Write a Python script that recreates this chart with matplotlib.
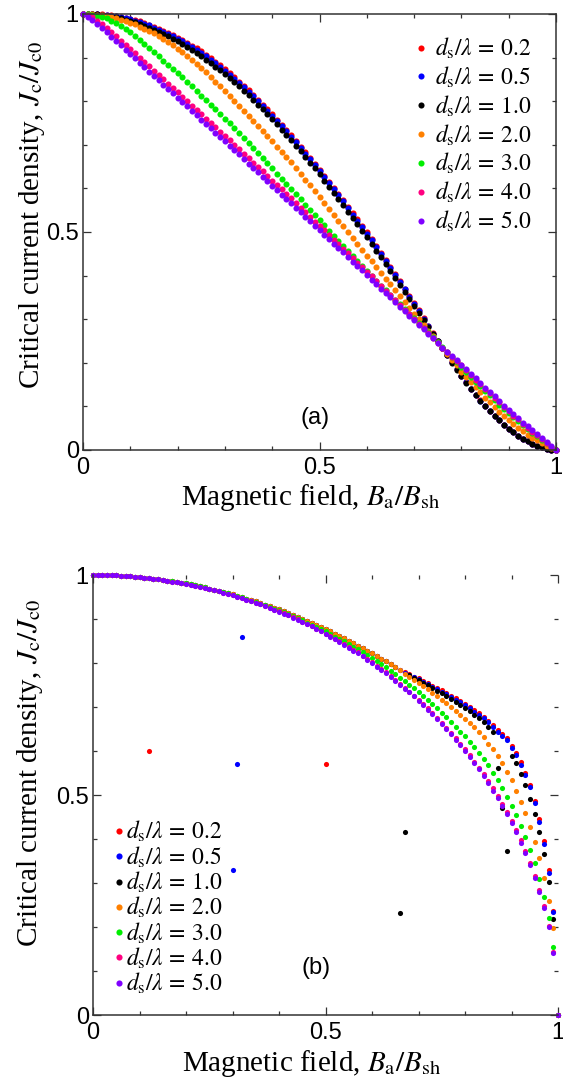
import numpy as np
import matplotlib
matplotlib.use("Agg")
import matplotlib.pyplot as plt
from matplotlib.ticker import MultipleLocator, FixedLocator, FixedFormatter

plt.rcParams['mathtext.fontset'] = 'stix'

# ---- data -------------------------------------------------------------
ratios = ['0.2', '0.5', '1.0', '2.0', '3.0', '4.0', '5.0']
colors = ['#ff0000', '#0000ff', '#000000', '#ff8000', '#00ee00', '#ff0080', '#8000ff']

# panel (a): field grid 0 ... 1 in steps of 0.01
field_a = np.linspace(0, 1, 101)

jc_a_02 = [1.000, 1.000, 1.000, 0.999, 0.999, 0.998, 0.997, 0.995, 0.994, 0.991,
           0.989, 0.986, 0.983, 0.979, 0.975, 0.971, 0.966, 0.961, 0.957, 0.951,
           0.945, 0.940, 0.934, 0.927, 0.921, 0.914, 0.906, 0.898, 0.890, 0.882,
           0.873, 0.864, 0.855, 0.845, 0.835, 0.825, 0.814, 0.803, 0.792, 0.781,
           0.770, 0.758, 0.746, 0.734, 0.722, 0.709, 0.696, 0.683, 0.670, 0.657,
           0.643, 0.629, 0.615, 0.601, 0.587, 0.573, 0.558, 0.543, 0.529, 0.514,
           0.499, 0.484, 0.467, 0.452, 0.435, 0.420, 0.403, 0.387, 0.370, 0.354,
           0.337, 0.320, 0.302, 0.285, 0.268, 0.251, 0.234, 0.218, 0.201, 0.185,
           0.170, 0.155, 0.141, 0.127, 0.114, 0.101, 0.089, 0.078, 0.068, 0.058,
           0.049, 0.041, 0.033, 0.026, 0.020, 0.014, 0.010, 0.006, 0.003, 0.001,
           0.000]
jc_a_05 = [1.000, 1.000, 0.999, 0.999, 0.998, 0.998, 0.996, 0.995, 0.993, 0.991,
           0.988, 0.985, 0.981, 0.978, 0.974, 0.969, 0.964, 0.959, 0.955, 0.949,
           0.943, 0.938, 0.931, 0.924, 0.918, 0.911, 0.903, 0.895, 0.887, 0.879,
           0.870, 0.861, 0.852, 0.842, 0.832, 0.822, 0.811, 0.800, 0.789, 0.778,
           0.767, 0.755, 0.743, 0.731, 0.719, 0.706, 0.693, 0.680, 0.667, 0.654,
           0.640, 0.626, 0.612, 0.598, 0.584, 0.570, 0.555, 0.540, 0.526, 0.511,
           0.496, 0.481, 0.465, 0.450, 0.433, 0.418, 0.402, 0.385, 0.369, 0.352,
           0.336, 0.319, 0.301, 0.285, 0.267, 0.250, 0.234, 0.218, 0.201, 0.185,
           0.170, 0.155, 0.141, 0.127, 0.113, 0.101, 0.089, 0.078, 0.068, 0.058,
           0.049, 0.041, 0.033, 0.026, 0.020, 0.014, 0.010, 0.006, 0.003, 0.001,
           0.000]
jc_a_10 = [1.000, 1.000, 0.999, 0.999, 0.997, 0.996, 0.994, 0.992, 0.990, 0.987,
           0.984, 0.981, 0.977, 0.973, 0.969, 0.964, 0.959, 0.954, 0.949, 0.943,
           0.937, 0.931, 0.924, 0.917, 0.910, 0.903, 0.895, 0.887, 0.879, 0.871,
           0.862, 0.853, 0.844, 0.834, 0.824, 0.814, 0.803, 0.792, 0.781, 0.770,
           0.759, 0.747, 0.735, 0.723, 0.711, 0.698, 0.685, 0.672, 0.659, 0.646,
           0.632, 0.618, 0.604, 0.590, 0.576, 0.562, 0.547, 0.532, 0.518, 0.503,
           0.488, 0.473, 0.457, 0.442, 0.426, 0.411, 0.395, 0.379, 0.363, 0.347,
           0.331, 0.315, 0.298, 0.282, 0.265, 0.249, 0.233, 0.217, 0.200, 0.184,
           0.169, 0.154, 0.140, 0.126, 0.113, 0.101, 0.089, 0.078, 0.068, 0.058,
           0.049, 0.041, 0.033, 0.026, 0.020, 0.014, 0.010, 0.006, 0.003, 0.001,
           0.000]
jc_a_20 = [1.000, 1.000, 0.999, 0.998, 0.997, 0.995, 0.993, 0.990, 0.987, 0.984,
           0.980, 0.976, 0.971, 0.966, 0.961, 0.956, 0.949, 0.942, 0.935, 0.928,
           0.920, 0.912, 0.903, 0.895, 0.886, 0.877, 0.867, 0.856, 0.845, 0.834,
           0.823, 0.812, 0.801, 0.790, 0.778, 0.767, 0.755, 0.743, 0.732, 0.720,
           0.708, 0.696, 0.684, 0.672, 0.660, 0.647, 0.634, 0.620, 0.607, 0.594,
           0.580, 0.567, 0.553, 0.540, 0.526, 0.513, 0.500, 0.486, 0.473, 0.459,
           0.446, 0.433, 0.420, 0.406, 0.393, 0.380, 0.367, 0.353, 0.340, 0.326,
           0.313, 0.300, 0.287, 0.274, 0.261, 0.248, 0.234, 0.221, 0.207, 0.194,
           0.180, 0.168, 0.156, 0.144, 0.132, 0.120, 0.109, 0.099, 0.088, 0.078,
           0.068, 0.059, 0.051, 0.043, 0.035, 0.028, 0.022, 0.016, 0.010, 0.005,
           0.000]
jc_a_30 = [1.000, 0.999, 0.998, 0.996, 0.993, 0.990, 0.985, 0.979, 0.972, 0.965,
           0.958, 0.949, 0.940, 0.931, 0.921, 0.912, 0.903, 0.893, 0.884, 0.874,
           0.865, 0.855, 0.844, 0.834, 0.823, 0.813, 0.802, 0.792, 0.781, 0.771,
           0.760, 0.749, 0.738, 0.727, 0.716, 0.705, 0.693, 0.681, 0.670, 0.658,
           0.646, 0.634, 0.622, 0.611, 0.599, 0.587, 0.575, 0.563, 0.551, 0.539,
           0.527, 0.515, 0.503, 0.491, 0.479, 0.467, 0.456, 0.444, 0.433, 0.421,
           0.410, 0.399, 0.388, 0.377, 0.366, 0.355, 0.344, 0.334, 0.323, 0.313,
           0.302, 0.291, 0.280, 0.270, 0.259, 0.248, 0.236, 0.225, 0.213, 0.202,
           0.190, 0.179, 0.168, 0.157, 0.146, 0.135, 0.125, 0.115, 0.104, 0.094,
           0.084, 0.075, 0.066, 0.057, 0.048, 0.039, 0.031, 0.023, 0.015, 0.008,
           0.000]
jc_a_40 = [1.000, 0.998, 0.992, 0.985, 0.977, 0.968, 0.959, 0.949, 0.939, 0.930,
           0.920, 0.910, 0.900, 0.890, 0.880, 0.870, 0.860, 0.850, 0.840, 0.830,
           0.820, 0.810, 0.800, 0.790, 0.780, 0.770, 0.760, 0.750, 0.740, 0.730,
           0.720, 0.710, 0.700, 0.690, 0.679, 0.669, 0.659, 0.649, 0.639, 0.629,
           0.618, 0.608, 0.598, 0.588, 0.577, 0.566, 0.556, 0.546, 0.535, 0.524,
           0.514, 0.504, 0.493, 0.482, 0.472, 0.462, 0.451, 0.440, 0.430, 0.419,
           0.408, 0.398, 0.387, 0.376, 0.365, 0.355, 0.344, 0.333, 0.322, 0.311,
           0.301, 0.290, 0.279, 0.268, 0.257, 0.245, 0.234, 0.224, 0.214, 0.204,
           0.194, 0.183, 0.172, 0.161, 0.151, 0.140, 0.130, 0.120, 0.109, 0.099,
           0.089, 0.079, 0.070, 0.060, 0.051, 0.042, 0.034, 0.025, 0.017, 0.008,
           0.000]
jc_a_50 = [1.000, 0.994, 0.986, 0.977, 0.968, 0.958, 0.948, 0.938, 0.928, 0.918,
           0.908, 0.898, 0.888, 0.878, 0.868, 0.858, 0.848, 0.838, 0.828, 0.818,
           0.808, 0.798, 0.788, 0.778, 0.768, 0.758, 0.748, 0.738, 0.728, 0.718,
           0.708, 0.698, 0.688, 0.678, 0.667, 0.657, 0.647, 0.637, 0.627, 0.617,
           0.606, 0.596, 0.586, 0.576, 0.566, 0.555, 0.545, 0.535, 0.525, 0.514,
           0.504, 0.494, 0.484, 0.473, 0.463, 0.453, 0.443, 0.432, 0.422, 0.412,
           0.401, 0.391, 0.381, 0.370, 0.360, 0.350, 0.339, 0.329, 0.318, 0.308,
           0.298, 0.287, 0.277, 0.266, 0.256, 0.245, 0.235, 0.225, 0.215, 0.206,
           0.196, 0.185, 0.175, 0.164, 0.154, 0.143, 0.133, 0.123, 0.112, 0.102,
           0.092, 0.082, 0.073, 0.063, 0.054, 0.045, 0.036, 0.027, 0.018, 0.009,
           0.000]

# panel (b): field grid 0 ... 0.99 in steps of 0.01, plus the end point 1
field_b = np.append(np.linspace(0, 0.99, 100), 1.0)

jc_b_02 = [1.000, 1.000, 1.000, 1.000, 0.999, 0.999, 0.998, 0.998, 0.997, 0.996,
           0.995, 0.994, 0.600, 0.992, 0.990, 0.989, 0.987, 0.986, 0.984, 0.982,
           0.981, 0.979, 0.977, 0.974, 0.972, 0.969, 0.967, 0.964, 0.961, 0.959,
           0.956, 0.953, 0.950, 0.946, 0.943, 0.940, 0.936, 0.932, 0.929, 0.925,
           0.922, 0.918, 0.914, 0.909, 0.905, 0.901, 0.896, 0.892, 0.887, 0.882,
           0.570, 0.872, 0.866, 0.861, 0.856, 0.851, 0.845, 0.839, 0.834, 0.827,
           0.822, 0.816, 0.810, 0.804, 0.797, 0.790, 0.784, 0.779, 0.774, 0.769,
           0.765, 0.759, 0.754, 0.748, 0.743, 0.738, 0.732, 0.726, 0.720, 0.714,
           0.707, 0.700, 0.693, 0.686, 0.678, 0.669, 0.659, 0.648, 0.639, 0.629,
           0.611, 0.596, 0.574, 0.550, 0.523, 0.487, 0.445, 0.395, 0.330, 0.236,
           0.000]
jc_b_05 = [1.000, 1.000, 1.000, 1.000, 0.999, 0.999, 0.998, 0.998, 0.997, 0.996,
           0.995, 0.994, 0.993, 0.992, 0.990, 0.989, 0.987, 0.986, 0.984, 0.982,
           0.981, 0.979, 0.977, 0.974, 0.972, 0.969, 0.967, 0.964, 0.961, 0.959,
           0.330, 0.570, 0.860, 0.946, 0.943, 0.940, 0.936, 0.932, 0.929, 0.925,
           0.922, 0.918, 0.914, 0.909, 0.905, 0.901, 0.896, 0.892, 0.887, 0.882,
           0.877, 0.872, 0.866, 0.861, 0.856, 0.851, 0.845, 0.839, 0.834, 0.827,
           0.822, 0.816, 0.810, 0.804, 0.797, 0.790, 0.784, 0.778, 0.773, 0.768,
           0.763, 0.757, 0.752, 0.746, 0.740, 0.735, 0.729, 0.723, 0.717, 0.711,
           0.704, 0.697, 0.689, 0.682, 0.674, 0.665, 0.655, 0.644, 0.634, 0.624,
           0.606, 0.591, 0.569, 0.545, 0.518, 0.481, 0.439, 0.389, 0.323, 0.233,
           0.000]
jc_b_10 = [1.000, 1.000, 1.000, 1.000, 0.999, 0.999, 0.998, 0.998, 0.997, 0.996,
           0.995, 0.994, 0.993, 0.992, 0.990, 0.989, 0.987, 0.986, 0.984, 0.982,
           0.981, 0.979, 0.977, 0.974, 0.972, 0.969, 0.967, 0.964, 0.961, 0.959,
           0.956, 0.953, 0.950, 0.946, 0.943, 0.940, 0.936, 0.932, 0.929, 0.925,
           0.922, 0.918, 0.914, 0.909, 0.905, 0.901, 0.896, 0.892, 0.887, 0.882,
           0.877, 0.872, 0.866, 0.861, 0.856, 0.851, 0.845, 0.839, 0.834, 0.827,
           0.822, 0.816, 0.810, 0.804, 0.797, 0.790, 0.231, 0.417, 0.772, 0.767,
           0.761, 0.755, 0.749, 0.743, 0.737, 0.731, 0.725, 0.718, 0.712, 0.705,
           0.698, 0.690, 0.682, 0.674, 0.665, 0.655, 0.643, 0.561, 0.470, 0.373,
           0.589, 0.572, 0.548, 0.523, 0.492, 0.457, 0.417, 0.367, 0.303, 0.218,
           0.000]
jc_b_20 = [1.000, 1.000, 1.000, 1.000, 0.999, 0.999, 0.998, 0.998, 0.997, 0.996,
           0.995, 0.994, 0.993, 0.992, 0.990, 0.989, 0.987, 0.986, 0.984, 0.982,
           0.981, 0.979, 0.977, 0.974, 0.972, 0.969, 0.967, 0.964, 0.961, 0.959,
           0.956, 0.953, 0.950, 0.946, 0.943, 0.940, 0.936, 0.932, 0.929, 0.925,
           0.922, 0.918, 0.914, 0.909, 0.905, 0.901, 0.896, 0.892, 0.887, 0.882,
           0.877, 0.872, 0.866, 0.861, 0.856, 0.851, 0.845, 0.839, 0.834, 0.827,
           0.822, 0.816, 0.810, 0.804, 0.797, 0.790, 0.783, 0.776, 0.769, 0.762,
           0.754, 0.747, 0.740, 0.732, 0.724, 0.716, 0.708, 0.699, 0.690, 0.681,
           0.672, 0.663, 0.654, 0.644, 0.631, 0.617, 0.604, 0.589, 0.572, 0.553,
           0.533, 0.510, 0.485, 0.458, 0.428, 0.394, 0.356, 0.311, 0.258, 0.198,
           0.000]
jc_b_30 = [1.000, 1.000, 1.000, 1.000, 0.999, 0.999, 0.998, 0.998, 0.997, 0.996,
           0.995, 0.994, 0.993, 0.992, 0.990, 0.989, 0.987, 0.986, 0.984, 0.982,
           0.981, 0.979, 0.977, 0.974, 0.972, 0.969, 0.967, 0.964, 0.961, 0.958,
           0.955, 0.952, 0.949, 0.946, 0.942, 0.939, 0.935, 0.931, 0.927, 0.923,
           0.920, 0.915, 0.911, 0.907, 0.902, 0.897, 0.892, 0.887, 0.882, 0.877,
           0.872, 0.866, 0.860, 0.855, 0.849, 0.843, 0.837, 0.831, 0.825, 0.818,
           0.811, 0.804, 0.797, 0.790, 0.782, 0.775, 0.767, 0.759, 0.751, 0.743,
           0.734, 0.725, 0.716, 0.707, 0.698, 0.687, 0.677, 0.666, 0.655, 0.644,
           0.633, 0.621, 0.609, 0.596, 0.582, 0.568, 0.551, 0.534, 0.515, 0.495,
           0.475, 0.455, 0.430, 0.404, 0.375, 0.345, 0.309, 0.269, 0.220, 0.155,
           0.000]
jc_b_40 = [1.000, 1.000, 1.000, 1.000, 0.999, 0.999, 0.998, 0.998, 0.997, 0.996,
           0.995, 0.994, 0.993, 0.992, 0.990, 0.989, 0.987, 0.985, 0.984, 0.982,
           0.980, 0.978, 0.976, 0.973, 0.971, 0.968, 0.966, 0.963, 0.960, 0.957,
           0.954, 0.951, 0.947, 0.944, 0.940, 0.937, 0.933, 0.929, 0.925, 0.921,
           0.918, 0.913, 0.909, 0.904, 0.899, 0.894, 0.889, 0.884, 0.878, 0.873,
           0.867, 0.861, 0.855, 0.849, 0.843, 0.836, 0.830, 0.824, 0.817, 0.809,
           0.802, 0.794, 0.787, 0.779, 0.770, 0.762, 0.753, 0.744, 0.735, 0.726,
           0.717, 0.707, 0.697, 0.686, 0.676, 0.664, 0.653, 0.641, 0.630, 0.617,
           0.604, 0.590, 0.576, 0.562, 0.548, 0.532, 0.515, 0.498, 0.480, 0.461,
           0.441, 0.420, 0.397, 0.373, 0.346, 0.317, 0.285, 0.248, 0.203, 0.144,
           0.000]
jc_b_50 = [1.000, 1.000, 1.000, 1.000, 0.999, 0.999, 0.998, 0.998, 0.997, 0.996,
           0.995, 0.994, 0.993, 0.992, 0.990, 0.989, 0.987, 0.985, 0.984, 0.982,
           0.980, 0.978, 0.976, 0.973, 0.971, 0.968, 0.966, 0.963, 0.960, 0.957,
           0.954, 0.951, 0.947, 0.944, 0.940, 0.937, 0.933, 0.929, 0.925, 0.921,
           0.917, 0.912, 0.908, 0.903, 0.898, 0.893, 0.888, 0.883, 0.877, 0.872,
           0.866, 0.860, 0.854, 0.848, 0.842, 0.835, 0.828, 0.822, 0.815, 0.807,
           0.800, 0.792, 0.785, 0.777, 0.768, 0.760, 0.751, 0.742, 0.733, 0.724,
           0.714, 0.704, 0.694, 0.683, 0.673, 0.661, 0.650, 0.638, 0.626, 0.613,
           0.600, 0.586, 0.572, 0.558, 0.543, 0.527, 0.510, 0.493, 0.475, 0.456,
           0.436, 0.415, 0.392, 0.368, 0.341, 0.312, 0.280, 0.243, 0.199, 0.141,
           0.000]

series_a = [jc_a_02, jc_a_05, jc_a_10, jc_a_20, jc_a_30, jc_a_40, jc_a_50]
series_b = [jc_b_02, jc_b_05, jc_b_10, jc_b_20, jc_b_30, jc_b_40, jc_b_50]

serif = 'Liberation Serif'
sans = 'Liberation Sans'


def style_axis(ax):
    ax.set_xlim(0, 1)
    ax.set_ylim(0, 1)
    for axis in (ax.xaxis, ax.yaxis):
        axis.set_major_locator(FixedLocator([0, 0.5, 1]))
        axis.set_major_formatter(FixedFormatter(['0', '0.5', '1']))
        axis.set_minor_locator(MultipleLocator(0.1))
    ax.tick_params(which='both', direction='in', top=True, right=True,
                   color='#333333', width=0.9)
    ax.tick_params(which='major', length=5.5, labelsize=17,
                   labelfontfamily=sans)
    ax.tick_params(axis='x', which='major', pad=5)
    ax.tick_params(axis='y', which='major', pad=3)
    ax.tick_params(which='minor', length=3)
    for sp in ax.spines.values():
        sp.set_color('#333333')
        sp.set_linewidth(1.1)
    ax.set_xlabel(r'Magnetic field, $B_\mathrm{a}/B_\mathrm{sh}$',
                  fontsize=21, family=serif, va='center')
    ax.set_ylabel(r'Critical current density, $J_\mathrm{c}/J_\mathrm{c0}$',
                  fontsize=21, family=serif, va='center')


def legend_label(r):
    return r'$d_\mathrm{s}/\lambda\,=\,%s$' % r


fig = plt.figure(figsize=(5.63, 10.86), dpi=100)
ax_a = fig.add_axes([83 / 563, 1 - 450 / 1086, 473 / 563, 436 / 1086])
ax_b = fig.add_axes([93 / 563, 1 - 1015 / 1086, 465 / 563, 440 / 1086])

# ---- panel (a) ----
for jc, col, r in zip(series_a, colors, ratios):
    ax_a.plot(field_a, jc, 'o', ms=4.4, mew=0, color=col, clip_on=False,
              label=legend_label(r))
style_axis(ax_a)
ax_a.xaxis.set_label_coords(0.482, -0.11)
ax_a.yaxis.set_label_coords(-0.108, 0.54)
ax_a.text(0.49, 0.073, '(a)', transform=ax_a.transAxes, fontsize=17,
          family=sans, ha='center', va='center')
ax_a.legend(loc='upper left', bbox_to_anchor=(0.695, 0.95), frameon=False,
            fontsize=17, handlelength=0.8, handletextpad=0.2,
            labelspacing=0.15, borderpad=0, borderaxespad=0)

# ---- panel (b) ----
for jc, col, r in zip(series_b, colors, ratios):
    ax_b.plot(field_b, jc, 'o', ms=3.7, mew=0, color=col, clip_on=False,
              label=legend_label(r))
style_axis(ax_b)
ax_b.spines['top'].set_visible(False)
ax_b.spines['right'].set_visible(False)
ax_b.xaxis.set_label_coords(0.47, -0.11)
ax_b.yaxis.set_label_coords(-0.135, 0.55)
ax_b.text(0.48, 0.107, '(b)', transform=ax_b.transAxes, fontsize=17,
          family=sans, ha='center', va='center')
ax_b.legend(loc='upper left', bbox_to_anchor=(0.045, 0.445), frameon=False,
            fontsize=17, handlelength=0.4, handletextpad=0.1,
            labelspacing=0.0, borderpad=0, borderaxespad=0, markerscale=1.2)

fig.savefig('out.png', dpi=100)
